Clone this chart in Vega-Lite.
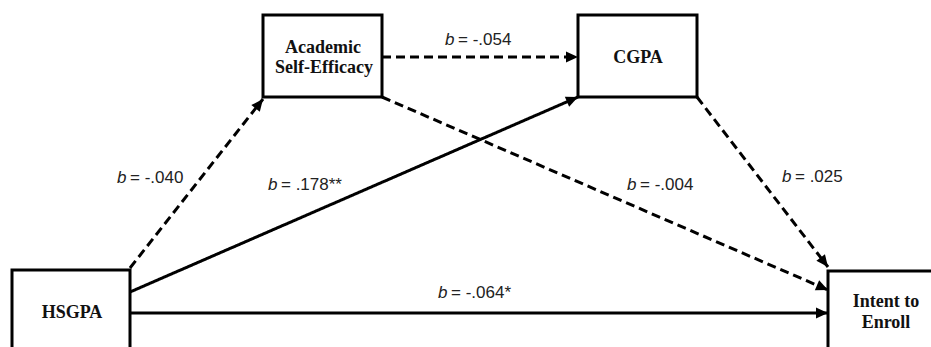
{
  "$schema": "https://vega.github.io/schema/vega-lite/v6.json",
  "width": 931,
  "height": 347,
  "padding": 0,
  "autosize": {"type": "none"},
  "background": "white",
  "config": {"view": {"stroke": null}},
  "datasets": {
    "boxes": [
      {"id": "Academic Self-Efficacy", "x": 263, "x2": 382, "y": 15, "y2": 97},
      {"id": "CGPA", "x": 578, "x2": 697, "y": 15, "y2": 97},
      {"id": "HSGPA", "x": 12, "x2": 130, "y": 270, "y2": 365},
      {"id": "Intent to Enroll", "x": 828, "x2": 950, "y": 271, "y2": 365}
    ],
    "boxtext": [
      {"t": "Academic", "x": 323, "y": 53},
      {"t": "Self-Efficacy", "x": 324, "y": 73},
      {"t": "CGPA", "x": 638, "y": 63},
      {"t": "HSGPA", "x": 72, "y": 318},
      {"t": "Intent to", "x": 886, "y": 307},
      {"t": "Enroll", "x": 886, "y": 328}
    ],
    "paths": [
      {"from": "HSGPA", "to": "Academic Self-Efficacy", "x": 130, "y": 268, "x2": 263, "y2": 99, "style": "dashed"},
      {"from": "HSGPA", "to": "CGPA", "x": 130, "y": 292, "x2": 578, "y2": 97, "style": "solid"},
      {"from": "HSGPA", "to": "Intent to Enroll", "x": 130, "y": 313, "x2": 828, "y2": 313, "style": "solid"},
      {"from": "Academic Self-Efficacy", "to": "CGPA", "x": 382, "y": 57, "x2": 578, "y2": 57, "style": "dashed"},
      {"from": "Academic Self-Efficacy", "to": "Intent to Enroll", "x": 382, "y": 97, "x2": 828, "y2": 290, "style": "dashed"},
      {"from": "CGPA", "to": "Intent to Enroll", "x": 697, "y": 97, "x2": 828, "y2": 267, "style": "dashed"}
    ],
    "coefs": [
      {"path": "ASE-CGPA", "v": "= -.054", "x": 445, "y": 45},
      {"path": "HSGPA-ASE", "v": "= -.040", "x": 117, "y": 183},
      {"path": "HSGPA-CGPA", "v": "= .178**", "x": 268, "y": 190},
      {"path": "ASE-Intent", "v": "= -.004", "x": 627, "y": 190},
      {"path": "CGPA-Intent", "v": "= .025", "x": 782, "y": 182},
      {"path": "HSGPA-Intent", "v": "= -.064*", "x": 438, "y": 298}
    ]
  },
  "layer": [
    {
      "data": {"name": "paths"},
      "mark": {"type": "rule", "strokeWidth": 3, "color": "black", "strokeCap": "butt"},
      "encoding": {
        "x": {"field": "x", "type": "quantitative", "scale": {"domain": [0, 931], "nice": false, "zero": false}, "axis": null},
        "y": {"field": "y", "type": "quantitative", "scale": {"domain": [0, 347], "nice": false, "zero": false, "reverse": true}, "axis": null},
        "x2": {"field": "x2"},
        "y2": {"field": "y2"},
        "strokeDash": {"field": "style", "type": "nominal", "scale": {"domain": ["solid", "dashed"], "range": [[1, 0], [9, 5]]}, "legend": null}
      }
    },
    {
      "data": {"name": "paths"},
      "transform": [
        {"calculate": "atan2(datum.x2 - datum.x, -(datum.y2 - datum.y)) * 180 / PI", "as": "ang"}
      ],
      "mark": {"type": "point", "shape": "M0,0L-0.9,2L0.9,2Z", "filled": true, "color": "black", "opacity": 1, "size": 144, "strokeWidth": 0},
      "encoding": {
        "x": {"field": "x2", "type": "quantitative", "scale": {"domain": [0, 931], "nice": false, "zero": false}, "axis": null},
        "y": {"field": "y2", "type": "quantitative", "scale": {"domain": [0, 347], "nice": false, "zero": false, "reverse": true}, "axis": null},
        "angle": {"field": "ang", "type": "quantitative", "scale": null}
      }
    },
    {
      "data": {"name": "boxes"},
      "mark": {"type": "rect", "fill": "white", "stroke": "black", "strokeWidth": 3, "clip": true},
      "encoding": {
        "x": {"field": "x", "type": "quantitative", "scale": {"domain": [0, 931], "nice": false, "zero": false}, "axis": null},
        "x2": {"field": "x2"},
        "y": {"field": "y", "type": "quantitative", "scale": {"domain": [0, 347], "nice": false, "zero": false, "reverse": true}, "axis": null},
        "y2": {"field": "y2"}
      }
    },
    {
      "data": {"name": "boxtext"},
      "mark": {"type": "text", "font": "Liberation Serif", "fontWeight": "bold", "fontSize": 18, "align": "center", "baseline": "alphabetic", "color": "#111"},
      "encoding": {
        "x": {"field": "x", "type": "quantitative", "scale": {"domain": [0, 931], "nice": false, "zero": false}, "axis": null},
        "y": {"field": "y", "type": "quantitative", "scale": {"domain": [0, 347], "nice": false, "zero": false, "reverse": true}, "axis": null},
        "text": {"field": "t"}
      }
    },
    {
      "data": {"name": "coefs"},
      "mark": {"type": "text", "font": "Liberation Sans", "fontStyle": "italic", "fontSize": 17, "align": "left", "baseline": "alphabetic", "color": "#222"},
      "encoding": {
        "x": {"field": "x", "type": "quantitative", "scale": {"domain": [0, 931], "nice": false, "zero": false}, "axis": null},
        "y": {"field": "y", "type": "quantitative", "scale": {"domain": [0, 347], "nice": false, "zero": false, "reverse": true}, "axis": null},
        "text": {"value": "b"}
      }
    },
    {
      "data": {"name": "coefs"},
      "mark": {"type": "text", "font": "Liberation Sans", "fontSize": 17, "align": "left", "baseline": "alphabetic", "dx": 13, "color": "#222"},
      "encoding": {
        "x": {"field": "x", "type": "quantitative", "scale": {"domain": [0, 931], "nice": false, "zero": false}, "axis": null},
        "y": {"field": "y", "type": "quantitative", "scale": {"domain": [0, 347], "nice": false, "zero": false, "reverse": true}, "axis": null},
        "text": {"field": "v"}
      }
    }
  ]
}
